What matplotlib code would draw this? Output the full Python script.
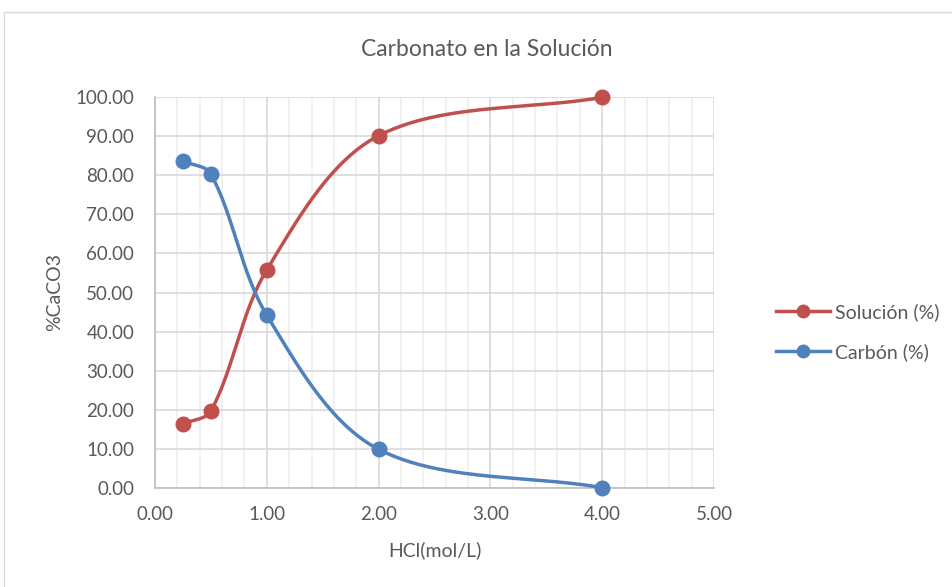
import matplotlib.pyplot as plt
import numpy as np
from matplotlib.patches import Rectangle
from matplotlib.ticker import MultipleLocator, FormatStrFormatter

hcl = [0.25, 0.5, 1.0, 2.0, 4.0]
solucion = [16.4, 19.7, 55.8, 90.1, 99.9]
carbon = [83.6, 80.3, 44.2, 9.9, 0.1]

red = '#C0504D'
blue = '#4F81BD'
grid_major = '#D9D9D9'
grid_minor = '#EFEFEF'
text_color = '#595959'

plt.rcParams['font.family'] = ['Lato', 'DejaVu Sans']

W, H = 953, 587
x0, x1, y0, y1 = 155, 714, 488, 97  # area del grafico en pixeles
xmax, ymax = 5, 100


def smooth(xs, ys, n=50):
    # linea suavizada estilo Excel: Bezier calculado en espacio de pantalla
    sx = (x1 - x0) / xmax
    sy = (y0 - y1) / ymax
    pts = np.column_stack([np.array(xs) * sx, np.array(ys) * sy])
    pts = np.vstack([pts[0], pts, pts[-1]])
    t = np.linspace(0, 1, n)[:, None]
    out = []
    for i in range(1, len(pts) - 2):
        p0, p1, p2, p3 = pts[i - 1], pts[i], pts[i + 1], pts[i + 2]
        d01 = np.linalg.norm(p1 - p0)
        d12 = np.linalg.norm(p2 - p1)
        d23 = np.linalg.norm(p3 - p2)
        c1 = p1 + (p2 - p0) * d12 / (d01 + d12) / 3
        c2 = p2 - (p3 - p1) * d12 / (d12 + d23) / 3
        seg = (1 - t) ** 3 * p1 + 3 * (1 - t) ** 2 * t * c1 + 3 * (1 - t) * t ** 2 * c2 + t ** 3 * p2
        out.append(seg)
    out = np.vstack(out)
    return out[:, 0] / sx, out[:, 1] / sy


fig = plt.figure(figsize=(W / 100, H / 100), dpi=100)
fig.patches.append(Rectangle((4 / W, -0.01), 1.0, 1 - 12 / H + 0.01, transform=fig.transFigure,
                             fill=False, edgecolor='#D9D9D9', linewidth=1))
ax = fig.add_axes([x0 / W, 1 - y0 / H, (x1 - x0) / W, (y0 - y1) / H])

sx, sy = smooth(hcl, solucion)
ax.plot(sx, sy, color=red, linewidth=2.5, zorder=3, clip_on=False)
ax.plot(hcl, solucion, 'o', color=red, markersize=10.5, zorder=4, clip_on=False)
cx, cy = smooth(hcl, carbon)
ax.plot(cx, cy, color=blue, linewidth=2.5, zorder=3, clip_on=False)
ax.plot(hcl, carbon, 'o', color=blue, markersize=10.5, zorder=4, clip_on=False)

# entradas de la leyenda
ax.plot([], [], '-o', color=red, linewidth=2.5, markersize=9, label='Solución (%)')
ax.plot([], [], '-o', color=blue, linewidth=2.5, markersize=9, label='Carbón (%)')

ax.set_xlim(0, xmax)
ax.set_ylim(0, ymax)
ax.xaxis.set_major_locator(MultipleLocator(1))
ax.xaxis.set_minor_locator(MultipleLocator(0.2))
ax.yaxis.set_major_locator(MultipleLocator(10))
ax.xaxis.set_major_formatter(FormatStrFormatter('%.2f'))
ax.yaxis.set_major_formatter(FormatStrFormatter('%.2f'))
ax.grid(which='major', color=grid_major, linewidth=1.2, zorder=0)
ax.grid(which='minor', axis='x', color=grid_minor, linewidth=1.2, zorder=0)
ax.set_axisbelow(True)
ax.tick_params(which='both', length=0, labelsize=13.5, colors=text_color)
ax.tick_params(axis='y', pad=15)
ax.tick_params(axis='x', pad=13)
for s in ['top', 'right']:
    ax.spines[s].set_visible(False)
for s in ['left', 'bottom']:
    ax.spines[s].set_color('#BFBFBF')
    ax.spines[s].set_linewidth(1.2)

fig.text(435 / W, 1 - 550 / H, 'HCl(mol/L)', fontsize=14, color=text_color, ha='center', va='center')
fig.text(55 / W, 1 - 292 / H, '%CaCO3', fontsize=14, color=text_color, ha='center', va='center',
         rotation=90)
fig.text(487 / W, 1 - 49 / H, 'Carbonato en la Solución', fontsize=16.5, color=text_color,
         ha='center', va='center')

fig.legend(loc='center left', bbox_to_anchor=(776 / W, 1 - 332 / H), frameon=False,
           fontsize=14, labelcolor=text_color, handlelength=2.8, handletextpad=0.25,
           labelspacing=1.15, borderpad=0, borderaxespad=0)

fig.savefig('out.png', dpi=100)
